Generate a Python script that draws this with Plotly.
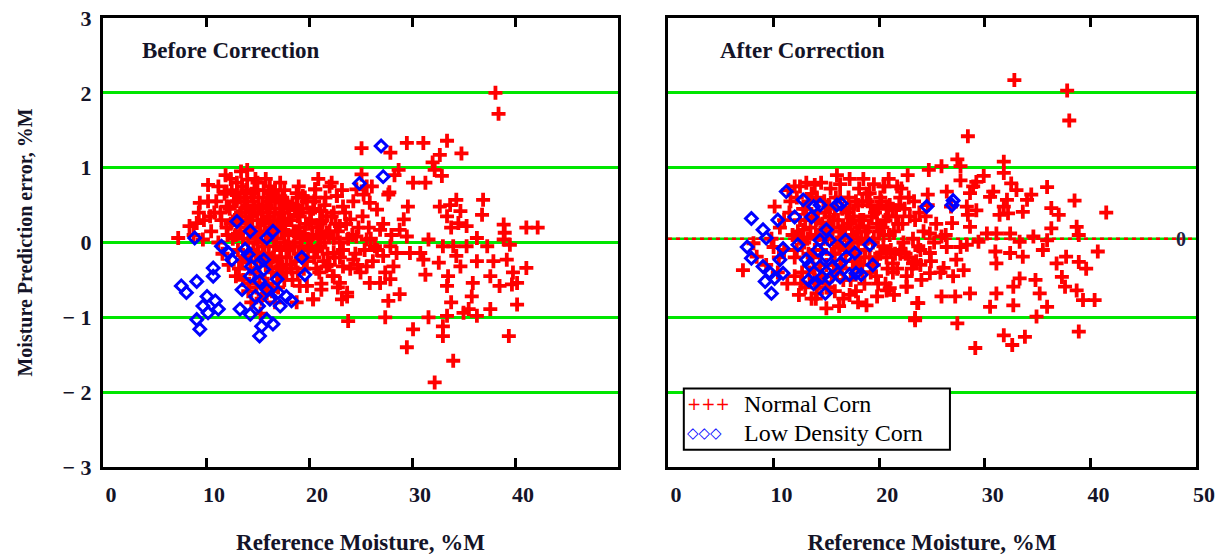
import plotly.graph_objects as go

# ---------------- data ----------------
# Before correction, Normal Corn: (reference moisture %M, prediction error %M)
before_normal = [
    (38.1, 2.00), (38.4, 1.72), (25.1, 1.26), (27.9, 1.20), (29.5, 1.33), (31.1, 1.33),
    (33.4, 1.36), (34.8, 1.19), (32.7, 1.17), (32.0, 1.07), (32.2, 0.97), (32.9, 0.89),
    (28.7, 0.97), (28.3, 0.90), (25.1, 0.91), (30.1, 0.80), (31.3, 0.80), (27.8, 0.67),
    (26.1, 0.75), (36.9, 0.57), (36.8, 0.37), (34.3, 0.57), (33.7, 0.50), (32.7, 0.48),
    (33.4, 0.35), (34.5, 0.26), (38.9, 0.24), (39.0, 0.13), (41.1, 0.20), (42.2, 0.20),
    (39.5, -0.03), (39.2, -0.23), (41.1, -0.34), (37.9, -0.25), (37.6, -0.45), (38.5, -0.58),
    (39.7, -0.56), (40.2, -0.83), (39.4, -1.25), (37.6, -0.89), (35.9, -0.54), (35.8, -0.72),
    (35.5, -0.89), (36.3, -0.98), (35.0, -0.94), (33.8, -0.80), (33.4, -0.98), (33.0, -1.12),
    (33.0, -1.25), (34.0, -1.58), (32.2, -1.87), (31.6, -1.00), (30.1, -1.16), (29.5, -1.40),
    (27.4, -1.00), (23.8, -1.05), (27.7, -0.78), (28.8, -0.69), (33.4, -0.58), (33.5, -0.45),
    (34.7, -0.32), (36.3, -0.25), (34.3, -0.18), (32.6, -0.27), (33.0, -0.05), (34.0, -0.05),
    (35.3, -0.05), (36.3, 0.06), (31.6, 0.04), (31.1, -0.23), (31.3, -0.43), (30.8, -0.14),
    (29.8, -0.14), (29.5, 0.08), (29.6, 0.48), (29.2, 0.31), (28.8, 0.17), (28.5, -0.14),
    (28.2, -0.32), (27.9, -0.49), (26.9, -0.54), (25.9, -0.54), (27.4, -0.40), (26.9, 0.17),
    (26.6, 0.44), (25.9, 0.53), (27.7, 0.64), (23.7, -0.72), (23.2, -0.76), (21.2, -0.63),
    (20.4, -0.76), (19.8, -0.58), (23.0, -0.54), (25.0, -0.40), (27.2, -0.18), (26.4, -0.05),
    (25.6, 0.04), (24.6, 0.08), (24.0, 0.31), (22.4, 0.40), (21.1, 0.42), (22.0, 0.75),
    (20.6, 0.71), (22.7, 0.62), (25.3, 0.64), (24.6, 0.71), (25.6, 0.75), (23.3, 0.48),
    (19.4, 0.62), (23.0, 0.22), (21.7, 0.13), (21.1, -0.05), (22.4, -0.14), (21.7, -0.32),
    (23.3, -0.32), (24.3, -0.23), (25.6, -0.32), (27.9, -0.05), (33.8, 0.20), (35.3, 0.22),
    (34.7, 0.42), (38.9, 0.04), (37.3, -0.05), (39.8, -0.40), (40.2, -0.54),
    (7.3, 0.06), (8.4, 0.22), (9.4, 0.53), (10.2, 0.77), (11.2, 0.75), (12.0, 0.68),
    (14.0, 0.97), (14.0, 0.84), (13.0, 0.66), (9.7, 0.04), (9.1, 0.26), (10.4, 0.35),
    (11.4, 0.40), (12.0, 0.48), (16.5, 0.66), (18.8, 0.66), (20.6, 0.71), (22.2, 0.80),
    (21.1, 0.42), (22.7, 0.62), (23.7, -0.67), (22.4, -0.45), (20.4, -0.76), (18.8, -0.80),
    (19.1, -0.58), (17.2, -0.32),
    (11.0, 0.55), (11.5, 0.30), (11.8, 0.65), (12.0, 0.20), (12.3, 0.45), (12.5, 0.70),
    (12.6, 0.05), (12.8, 0.30), (13.0, 0.55), (13.1, -0.10), (13.3, 0.15), (13.4, 0.40),
    (13.5, 0.75), (13.7, 0.60), (13.8, -0.20), (13.9, 0.25), (14.0, 0.50), (14.1, 0.00),
    (14.2, 0.35), (14.3, -0.35), (14.4, 0.65), (14.5, 0.20), (14.6, -0.10), (14.7, 0.45),
    (14.8, 0.05), (14.9, -0.25), (15.0, 0.30), (15.1, 0.60), (15.2, -0.45), (15.3, 0.15),
    (15.4, 0.40), (15.5, -0.05), (15.6, 0.70), (15.7, 0.25), (15.8, -0.30), (15.9, 0.50),
    (16.0, 0.10), (16.1, -0.15), (16.2, 0.35), (16.3, 0.60), (16.4, -0.40), (16.5, 0.20),
    (16.6, -0.05), (16.7, 0.45), (16.8, 0.05), (16.9, -0.25), (17.0, 0.30), (17.1, 0.55),
    (17.2, -0.10), (17.3, 0.15), (17.4, -0.35), (17.5, 0.40), (17.6, 0.00), (17.7, 0.25),
    (17.8, -0.20), (17.9, 0.50), (18.0, 0.10), (18.2, -0.30), (18.3, 0.30), (18.5, -0.05),
    (18.6, 0.45), (18.8, 0.15), (19.0, -0.15), (19.1, 0.35), (19.3, 0.05), (19.5, -0.35),
    (19.7, 0.25), (19.9, -0.10), (20.1, 0.40), (20.3, 0.10), (20.5, -0.20), (20.8, 0.20),
    (21.0, -0.40), (21.3, 0.30), (21.5, 0.00), (21.8, -0.15), (22.0, 0.15), (22.3, -0.45),
    (22.6, 0.25), (23.0, 0.00), (12.2, -0.30), (13.6, -0.50), (14.9, -0.60), (16.0, -0.55),
    (17.0, -0.60), (18.4, -0.50), (15.6, -0.70), (16.7, -0.80), (14.4, -0.80), (15.3, -0.95),
    (10.5, 0.15), (11.2, 0.00), (9.8, 0.30), (10.8, 0.40), (12.4, 0.85), (13.0, 0.80),
    (14.8, 0.85), (16.2, 0.75), (17.6, 0.70), (18.9, 0.60), (19.8, 0.55), (20.6, 0.60),
    (21.5, 0.50), (22.2, 0.35), (23.6, 0.25), (24.2, 0.10), (24.5, -0.15), (25.2, 0.35),
    (25.8, 0.20), (26.2, -0.25), (23.0, -0.20), (21.2, -0.55), (22.8, -0.60),
    (12.1, 0.10), (12.7, 0.55), (13.2, 0.30), (13.2, -0.35), (13.6, 0.05), (13.9, 0.70),
    (14.2, -0.55), (14.3, 0.15), (14.6, 0.55), (14.7, -0.40), (15.0, 0.00), (15.0, 0.80),
    (15.3, -0.20), (15.5, 0.50), (15.7, -0.55), (15.8, 0.10), (16.0, 0.40), (16.1, 0.65),
    (16.3, -0.25), (16.4, 0.10), (16.6, 0.30), (16.8, 0.60), (16.9, -0.45), (17.2, 0.40),
    (17.3, -0.20), (17.5, 0.15), (17.7, 0.55), (17.8, -0.40), (18.0, 0.30), (18.1, -0.10),
    (18.4, 0.50), (18.5, 0.15), (18.7, -0.25), (18.9, 0.35), (19.2, -0.05), (19.4, 0.45),
    (19.6, 0.10), (19.8, -0.25), (20.0, 0.25), (20.2, -0.05), (20.4, 0.45), (20.7, -0.35),
    (20.9, 0.05), (21.2, 0.15), (21.4, -0.25), (21.7, 0.35), (22.0, -0.30), (22.4, 0.05),
    (22.8, 0.15), (23.3, -0.10), (23.8, 0.05), (24.0, -0.35), (24.8, 0.20), (25.4, -0.10),
    (26.0, 0.05), (26.6, -0.10), (27.2, 0.25), (28.0, 0.10), (13.4, 0.95), (15.8, 0.85),
    (17.2, 0.80), (12.9, -0.45), (14.1, -0.65), (15.4, -0.75), (16.4, -0.65), (17.6, -0.50),
    (18.9, -0.40), (11.6, -0.15), (10.2, 0.55), (9.3, 0.40), (8.8, 0.10), (11.9, 0.90),
    (19.0, 0.75), (20.9, 0.85), (23.2, 0.70), (24.3, 0.55),
    (12.4, 0.25), (12.9, 0.10), (13.3, 0.60), (13.5, -0.25), (13.8, 0.45), (14.1, 0.20),
    (14.4, -0.15), (14.7, 0.70), (15.1, 0.45), (15.2, 0.10), (15.5, 0.30), (15.7, -0.15),
    (16.0, 0.55), (16.2, 0.20), (16.5, -0.20), (16.7, 0.70), (16.9, 0.20), (17.1, -0.35),
    (17.4, 0.60), (17.6, 0.30), (17.9, -0.05), (18.1, 0.45), (18.3, -0.35), (18.6, 0.00),
    (18.8, 0.50), (19.1, 0.20), (19.4, -0.20), (19.6, 0.60), (19.9, 0.05), (20.2, 0.30),
    (20.5, 0.55), (20.8, -0.10), (21.1, 0.25), (21.6, 0.60), (21.9, 0.10), (22.5, -0.20),
    (23.5, 0.40), (24.7, -0.30), (13.1, 0.35), (14.5, 0.40),
]

# Before correction, Low Density Corn
before_low = [
    (8.9, 0.06), (11.5, -0.05), (12.2, -0.14), (12.5, -0.23), (13.0, 0.28), (14.3, 0.15),
    (16.5, 0.15), (15.9, 0.06), (13.8, -0.09), (14.1, -0.16), (15.2, -0.27), (15.6, -0.23),
    (19.3, -0.20), (19.6, -0.43), (16.9, -0.49), (14.3, -0.45), (10.7, -0.34), (10.7, -0.45),
    (9.1, -0.52), (7.6, -0.58), (8.1, -0.67), (10.1, -0.72), (10.9, -0.78), (9.7, -0.85),
    (9.1, -1.03), (9.4, -1.16), (10.2, -0.94), (11.2, -0.89), (13.5, -0.63), (13.3, -0.89),
    (14.3, -0.96), (14.8, -0.72), (15.1, -0.85), (15.2, -1.25), (15.4, -1.12), (15.9, -1.03),
    (16.5, -1.09), (15.9, -0.63), (16.2, -0.76), (17.2, -0.85), (17.8, -0.72), (18.3, -0.78),
    (17.0, -0.67), (15.2, -0.52), (14.4, -0.32), (15.6, -0.36),
    (27.0, 1.29), (27.2, 0.88), (24.9, 0.79),
]

# After correction, Normal Corn
after_normal = [
    (32.8, 2.17), (37.8, 2.03), (38.0, 1.63), (28.4, 1.42), (24.7, 0.97), (25.9, 1.02),
    (27.4, 1.11), (27.7, 1.02), (31.8, 1.08), (31.8, 0.93), (29.9, 0.89), (27.7, 0.83),
    (20.5, 0.75), (22.1, 0.72), (24.6, 0.64), (26.4, 0.68), (28.9, 0.75), (29.2, 0.81),
    (28.6, 0.66), (30.8, 0.68), (32.5, 0.79), (33.0, 0.70), (34.4, 0.64), (35.9, 0.74),
    (38.5, 0.56), (41.5, 0.40), (36.3, 0.46), (37.0, 0.37), (36.3, 0.19), (38.7, 0.21),
    (38.9, 0.10), (40.7, -0.12), (37.7, -0.19), (38.9, -0.26), (39.6, -0.35), (36.8, -0.28),
    (37.3, -0.46), (37.6, -0.59), (38.7, -0.64), (39.3, -0.77), (40.4, -0.77), (38.9, -1.19),
    (35.9, -0.86), (35.2, -0.68), (34.8, -0.50), (33.3, -0.48), (32.7, -0.59), (34.9, -0.99),
    (32.7, -0.84), (33.8, -1.26), (32.6, -1.37), (31.8, -1.24), (29.1, -1.41), (27.4, -1.08),
    (23.4, -1.01), (30.5, -0.86), (31.1, -0.68), (28.6, -0.68), (27.2, -0.72), (25.9, -0.72),
    (23.6, -0.81), (22.6, -0.59), (20.7, -0.64), (28.0, -0.37), (27.3, -0.23), (26.1, -0.34),
    (24.8, -0.41), (31.1, -0.28), (31.0, -0.12), (32.4, -0.14), (33.6, -0.19), (35.5, -0.10),
    (34.6, 0.08), (33.3, 0.01), (32.4, 0.12), (31.1, 0.12), (29.4, 0.01), (28.3, -0.03),
    (28.6, 0.21), (29.2, 0.43), (28.4, 0.37), (26.9, 0.26), (25.9, 0.08), (27.7, -0.06),
    (31.4, 0.37), (32.2, 0.39), (33.6, 0.41), (32.1, 0.57), (31.8, 0.48), (30.5, 0.61),
    (34.0, 0.57), (24.8, 0.12), (23.9, -0.10), (22.0, -0.10), (23.2, -0.28), (21.3, -0.28),
    (24.8, -0.14), (26.4, -0.06), (26.8, 0.48), (28.3, 0.48), (30.2, 0.12), (35.9, 0.03),
    (7.1, -0.37), (12.5, 0.75), (13.9, 0.77), (20.4, 0.75), (21.7, 0.75), (19.1, 0.66),
    (20.7, 0.48), (10.1, 0.48), (11.6, 0.55), (23.4, -1.04), (15.0, -0.88), (14.1, -0.68),
    (18.8, -0.84), (21.0, -0.61), (22.6, -0.59), (23.7, -0.81), (19.8, -0.72), (8.4, -0.19),
    (8.1, -0.01), (10.0, -0.06), (12.8, 0.17),
    (11.5, 0.40), (11.8, 0.10), (12.0, -0.20), (12.2, 0.60), (12.5, 0.30), (12.7, -0.40),
    (12.9, 0.00), (13.1, 0.45), (13.3, -0.15), (13.5, 0.20), (13.6, 0.65), (13.8, -0.35),
    (14.0, 0.10), (14.2, 0.40), (14.3, -0.55), (14.5, -0.10), (14.6, 0.25), (14.8, 0.55),
    (15.0, -0.30), (15.1, 0.05), (15.3, 0.35), (15.5, -0.45), (15.6, 0.15), (15.8, -0.15),
    (15.9, 0.60), (16.1, 0.30), (16.2, -0.05), (16.4, -0.35), (16.5, 0.45), (16.7, 0.10),
    (16.8, -0.25), (17.0, 0.25), (17.1, 0.60), (17.3, -0.50), (17.4, 0.00), (17.6, 0.35),
    (17.7, -0.15), (17.9, 0.15), (18.0, 0.50), (18.2, -0.30), (18.3, 0.05), (18.5, 0.30),
    (18.7, -0.10), (18.9, 0.55), (19.0, 0.20), (19.2, -0.40), (19.4, 0.00), (19.6, 0.40),
    (19.8, -0.20), (20.0, 0.15), (20.2, 0.55), (20.4, -0.05), (20.6, 0.30), (20.8, -0.35),
    (21.0, 0.10), (21.3, 0.45), (21.5, -0.15), (21.8, 0.25), (22.0, 0.60), (22.3, 0.00),
    (22.6, -0.45), (22.9, 0.35), (23.2, 0.05), (23.5, -0.25), (23.8, 0.40), (24.2, 0.15),
    (13.0, -0.60), (14.0, -0.75), (15.8, -0.65), (16.6, -0.75), (17.8, -0.65), (18.6, -0.55),
    (12.4, -0.70), (19.9, -0.55), (12.0, 0.75), (14.5, 0.80), (15.4, 0.72), (16.3, 0.78),
    (17.2, 0.85), (18.1, 0.72), (19.5, 0.78), (11.0, -0.10), (10.6, 0.20), (10.4, -0.40),
    (11.3, -0.55), (9.8, 0.05),
    (12.3, 0.15), (12.6, -0.55), (12.8, 0.45), (13.2, 0.05), (13.4, -0.40), (13.7, 0.35),
    (13.9, -0.10), (14.1, 0.60), (14.4, -0.30), (14.7, 0.05), (14.9, 0.40), (15.2, -0.60),
    (15.4, 0.20), (15.7, -0.30), (15.8, 0.45), (16.0, 0.00), (16.3, 0.15), (16.6, -0.50),
    (16.9, 0.40), (17.1, -0.05), (17.3, 0.25), (17.5, -0.35), (17.8, 0.55), (18.0, 0.00),
    (18.2, 0.30), (18.4, -0.40), (18.7, 0.15), (18.8, 0.65), (19.1, -0.20), (19.3, 0.35),
    (19.5, 0.05), (19.7, -0.45), (19.9, 0.45), (20.1, -0.15), (20.3, 0.20), (20.6, -0.55),
    (20.9, 0.35), (21.1, -0.10), (21.4, 0.15), (21.7, -0.35), (21.9, 0.50), (22.2, 0.25),
    (22.5, -0.15), (22.8, 0.60), (23.1, -0.35), (23.4, 0.30), (23.7, -0.05), (24.0, -0.50),
    (24.4, 0.35), (24.9, -0.25), (25.4, 0.25), (25.8, -0.40), (26.3, 0.10), (27.0, -0.45),
    (11.4, 0.70), (13.1, 0.80), (16.0, 0.90), (18.5, 0.85), (20.9, 0.85), (22.7, 0.90),
    (12.0, -0.45), (13.6, -0.75), (15.0, -0.60), (16.2, -0.85), (17.2, -0.70), (18.0, -0.80),
    (21.4, -0.70), (10.5, -0.20), (11.0, 0.30), (9.3, -0.30),
    (12.6, 0.05), (13.0, 0.30), (13.3, 0.55), (13.7, -0.20), (14.0, 0.30), (14.3, 0.10),
    (14.6, -0.45), (14.9, 0.20), (15.2, 0.50), (15.5, -0.15), (15.7, 0.30), (16.0, -0.40),
    (16.3, 0.60), (16.6, 0.20), (16.9, -0.10), (17.2, 0.45), (17.5, 0.10), (17.8, -0.25),
    (18.1, 0.20), (18.4, 0.55), (18.6, -0.20), (18.9, 0.05), (19.2, 0.50), (19.5, -0.30),
    (19.8, 0.25), (20.1, 0.60), (20.4, 0.10), (20.7, -0.20), (21.0, 0.50), (21.3, -0.40),
    (21.6, 0.35), (22.0, -0.15), (22.4, 0.45), (22.8, -0.20), (23.3, 0.55), (23.9, -0.30),
    (24.6, 0.50), (25.2, 0.00), (12.2, -0.10), (13.9, -0.50),
]

# After correction, Low Density Corn
after_low = [
    (11.2, 0.68), (7.9, 0.32), (9.0, 0.17), (7.5, -0.06), (7.9, -0.21), (9.0, -0.32),
    (9.7, -0.41), (9.2, -0.52), (10.1, -0.48), (9.8, -0.68), (10.9, -0.41), (10.6, -0.23),
    (10.9, -0.08), (9.3, 0.06), (10.4, 0.30), (12.0, 0.34), (12.8, 0.57), (13.8, 0.48),
    (14.4, 0.50), (16.0, 0.50), (16.4, 0.52), (13.6, 0.34), (15.0, 0.17), (14.4, 0.03),
    (15.3, 0.03), (16.8, 0.03), (12.3, -0.03), (14.2, -0.10), (15.0, -0.19), (13.1, -0.23),
    (16.9, -0.19), (17.7, -0.14), (19.1, -0.03), (19.4, -0.30), (13.4, -0.30), (14.4, -0.32),
    (15.6, -0.32), (16.3, -0.28), (13.3, -0.50), (14.6, -0.46), (15.3, -0.48), (16.3, -0.46),
    (17.2, -0.43), (17.8, -0.41), (18.3, -0.43), (14.9, -0.68), (13.8, -0.55),
    (26.9, 0.50), (27.0, 0.56), (24.5, 0.48),
]

# reference line value of corrected panel and axis ticks
after_zero_line = 0.05
x_ticks = [0, 10, 20, 30, 40, 50]
y_ticks = [-3, -2, -1, 0, 1, 2, 3]
y_tick_text = ["\u2212 3", "\u2212 2", "\u2212 1", "0", "1", "2", "3"]
legend_labels = ["Normal Corn", "Low Density Corn"]

# ---------------- figure ----------------
RED = "#ff0000"
BLUE = "#0000ff"
GREEN = "#00e600"
SERIF = "Liberation Serif, Times New Roman, serif"
INK = "#141428"


def xs(pts):
    return [p[0] for p in pts]


def ys(pts):
    return [p[1] for p in pts]


cross = dict(symbol="cross-thin-open", size=10, color=RED, line=dict(color=RED, width=3.8))
diam = dict(symbol="diamond-open", size=9, color=BLUE, line=dict(color=BLUE, width=3))

fig = go.Figure()
fig.add_trace(go.Scatter(x=xs(before_normal), y=ys(before_normal), mode="markers",
                         marker=cross, name=legend_labels[0], xaxis="x", yaxis="y", showlegend=False))
fig.add_trace(go.Scatter(x=xs(before_low), y=ys(before_low), mode="markers",
                         marker=diam, name=legend_labels[1], xaxis="x", yaxis="y", showlegend=False))
fig.add_trace(go.Scatter(x=xs(after_normal), y=ys(after_normal), mode="markers",
                         marker=cross, name=legend_labels[0], xaxis="x2", yaxis="y2", showlegend=False))
fig.add_trace(go.Scatter(x=xs(after_low), y=ys(after_low), mode="markers",
                         marker=diam, name=legend_labels[1], xaxis="x2", yaxis="y2", showlegend=False))

tickfont = dict(family=SERIF, size=22, color=INK, weight="bold")
xtitlefont = dict(family=SERIF, size=23, color=INK, weight="bold")
ytitlefont = dict(family=SERIF, size=20, color=INK, weight="bold")

common_x = dict(range=[0, 50], showline=True, linewidth=3, linecolor="black", mirror="allticks",
                ticks="inside", ticklen=9, tickwidth=3, tickcolor="black", showgrid=False,
                zeroline=False, tickfont=tickfont, ticklabelshift=8, ticklabelstandoff=6,
                automargin=False)
common_y = dict(range=[-3, 3], showline=True, linewidth=3, linecolor="black", mirror=True,
                ticks="", zeroline=False, automargin=False)

fig.update_layout(
    width=1217, height=558,
    margin=dict(l=103, r=21, t=18, b=91),
    plot_bgcolor="white", paper_bgcolor="white",
    xaxis=dict(common_x, domain=[0, 0.4712], tickvals=x_ticks[:-1],
               title=dict(text="Reference Moisture, %M", font=xtitlefont, standoff=28)),
    yaxis=dict(common_y, tickvals=y_ticks, ticktext=y_tick_text, tickfont=tickfont,
               showgrid=True, gridcolor=GREEN, gridwidth=2.5, ticklabelstandoff=4,
               title=dict(text="Moisture Prediction error, %M", font=ytitlefont, standoff=25)),
    xaxis2=dict(common_x, domain=[0.5169, 1], tickvals=x_ticks,
                title=dict(text="Reference Moisture, %M", font=xtitlefont, standoff=28)),
    yaxis2=dict(common_y, anchor="x2", tickvals=[-2, -1, 1, 2], showticklabels=False,
                showgrid=True, gridcolor=GREEN, gridwidth=2.5),
    showlegend=False,
)

# corrected-panel reference line: green with red dashes
fig.add_shape(type="line", xref="x2", yref="y2", x0=0, x1=50, y0=after_zero_line, y1=after_zero_line,
              line=dict(color=GREEN, width=2.5), layer="below")
fig.add_shape(type="line", xref="x2", yref="y2", x0=0, x1=50, y0=after_zero_line, y1=after_zero_line,
              line=dict(color=RED, width=2.5, dash="4px,4px"), layer="below")
fig.add_annotation(x=48.6, y=after_zero_line, xref="x2", yref="y2", text="0", showarrow=False,
                   font=dict(family=SERIF, size=20, color="#222244", weight="bold"))

# panel labels
fig.add_annotation(x=3.6, y=2.57, xref="x", yref="y", text="Before Correction", showarrow=False,
                   xanchor="left", yanchor="middle",
                   font=dict(family=SERIF, size=23, color=INK, weight="bold"))
fig.add_annotation(x=4.7, y=2.57, xref="x2", yref="y2", text="After Correction", showarrow=False,
                   xanchor="left", yanchor="middle",
                   font=dict(family=SERIF, size=23, color=INK, weight="bold"))

# legend box (drawn in the corrected panel)
fig.add_shape(type="rect", xref="x2", yref="y2", x0=1.5, x1=26.7, y0=-2.77, y1=-1.95,
              line=dict(color="black", width=2), fillcolor="white", layer="above")
leg_font = dict(family=SERIF, size=24, color="black")
fig.add_annotation(x=1.6, y=-2.16, xref="x2", yref="y2", xanchor="left", yanchor="middle",
                   showarrow=False, text="+++",
                   font=dict(family="DejaVu Sans", size=17, color=RED))
fig.add_annotation(x=1.6, y=-2.54, xref="x2", yref="y2", xanchor="left", yanchor="middle",
                   showarrow=False, text="\u25c7\u25c7\u25c7",
                   font=dict(family="DejaVu Sans", size=15, color=BLUE))
fig.add_annotation(x=7.0, y=-2.16, xref="x2", yref="y2", xanchor="left", yanchor="middle",
                   showarrow=False, text=legend_labels[0], font=leg_font)
fig.add_annotation(x=7.0, y=-2.54, xref="x2", yref="y2", xanchor="left", yanchor="middle",
                   showarrow=False, text=legend_labels[1], font=leg_font)

fig.write_html("out.html")
